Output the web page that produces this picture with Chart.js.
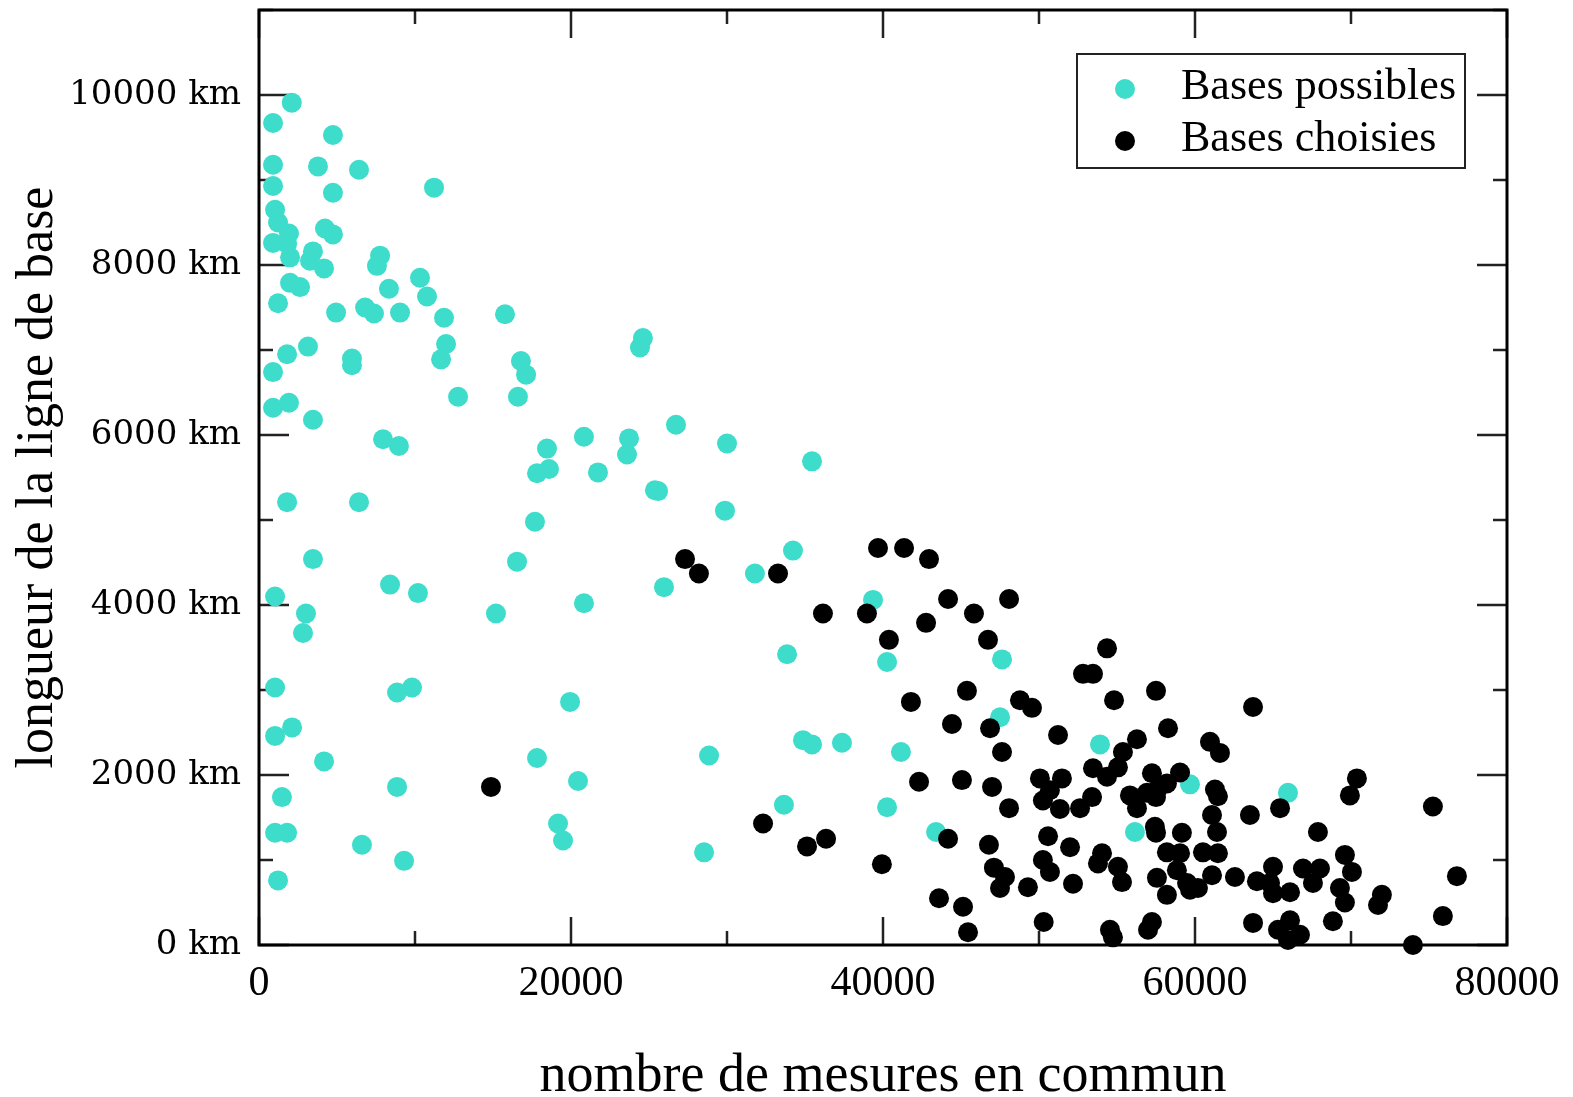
<!DOCTYPE html>
<html>
<head>
<meta charset="utf-8">
<script src="https://cdn.jsdelivr.net/npm/chart.js@4"></script>
<style>
  html, body { margin: 0; padding: 0; background: #fff; }
  #wrap { width: 1573px; height: 1097px; }
</style>
</head>
<body>
<div id="wrap"><canvas id="scatter"></canvas></div>
<script>
// Bases possibles (turquoise)
const possibleX = [2100, 900, 4740, 900, 3780, 6410, 11220, 900, 4740, 1030, 1220, 1920, 900, 1800, 4230, 4740,
  3460, 1990, 3270, 4170, 7760, 7560, 1990, 2630, 10320, 8330, 10770, 1220, 4940, 6800, 7370, 9040, 11860, 15770,
  24420, 24610, 3140, 1800, 900, 5960, 5960, 11990, 11670, 16790, 17120, 12760, 16600, 900, 1920, 3460, 7950, 8970,
  18460, 20830, 23720, 23590, 17820, 18590, 21730, 25380, 1800, 6410, 17690, 3460, 16540, 8400, 10190, 15190, 20830,
  1030, 3010, 2820, 1030, 8850, 9810, 19940, 1030, 2120, 4170, 17820, 20450, 8850, 1470, 1030, 1800, 6600, 19170,
  19490, 9300, 1220, 26730, 30000, 35450, 25580, 29870, 31790, 34230, 25960, 39360, 33850, 40260, 47630, 47500,
  28850, 34870, 35450, 37370, 41150, 33650, 40260, 43400, 28530, 53910, 59680, 65960, 56150];
const possibleY = [9910, 9670, 9530, 9180, 9160, 9120, 8910, 8930, 8850, 8650, 8500, 8370, 8260, 8250, 8430, 8360,
  8160, 8090, 8050, 7960, 8110, 7990, 7790, 7740, 7850, 7720, 7630, 7550, 7440, 7500, 7430, 7440, 7380, 7420,
  7030, 7140, 7040, 6950, 6740, 6900, 6820, 7070, 6890, 6870, 6710, 6450, 6450, 6320, 6380, 6180, 5950, 5870,
  5840, 5980, 5960, 5770, 5550, 5600, 5560, 5350, 5210, 5210, 4980, 4540, 4510, 4240, 4140, 3900, 4020,
  4100, 3900, 3670, 3030, 2970, 3030, 2860, 2460, 2560, 2160, 2200, 1930, 1860, 1740, 1320, 1320, 1180, 1430,
  1230, 990, 760, 6120, 5900, 5690, 5340, 5110, 4370, 4640, 4210, 4060, 3420, 3330, 3360, 2680,
  2230, 2410, 2360, 2380, 2270, 1650, 1620, 1330, 1090, 2360, 1890, 1790, 1330];

// Bases choisies (noir)
const chosenX = [14870, 27310, 28200, 33270, 39680, 41350, 42950, 38970, 36150, 44170, 45830, 48080, 42760, 40380,
  46730, 41790, 45380, 48780, 49550, 46860, 44420, 47630, 42310, 45060, 46990, 48080, 32310, 35130, 36350, 44170,
  46790, 39930, 47110, 47820, 47500, 49290, 43590, 45130, 45450, 54360, 52820, 53460, 57500, 54810, 63720, 58270,
  51220, 60960, 61600, 56280, 55380, 55060, 53460, 54360, 50060, 51470, 57240, 59040, 58200, 61280, 61470, 57560,
  56920, 50700, 55830, 53400, 50250, 52630, 51340, 56280, 57500, 61090, 63520, 65450, 57430, 57500, 59160, 61410,
  50580, 51990, 67880, 58200, 59040, 60510, 61470, 54040, 53780, 50250, 50700, 55060, 55320, 52180, 57560, 58840,
  59490, 60190, 58200, 59680, 61090, 62560, 63970, 65000, 64810, 65000, 66090, 66920, 68010, 67560, 69610, 70060,
  69290, 69610, 70380, 69930, 71980, 71730, 75250, 76790, 75890, 73970, 68840, 63720, 50300, 54550, 54740, 57240,
  56990, 65320, 66090, 66730, 65960];
const chosenY = [1860, 4540, 4370, 4370, 4670, 4670, 4540, 3900, 3900, 4070, 3900, 4070, 3790, 3590,
  3590, 2860, 2990, 2880, 2790, 2550, 2600, 2270, 1920, 1940, 1860, 1610, 1430, 1160, 1250, 1250,
  1180, 950, 910, 800, 670, 680, 550, 450, 150, 3490, 3190, 3190, 2990, 2880, 2800, 2550,
  2470, 2390, 2260, 2420, 2270, 2090, 2080, 1980, 1960, 1960, 2020, 2030, 1900, 1830, 1750, 1820,
  1790, 1820, 1760, 1740, 1700, 1610, 1600, 1610, 1740, 1530, 1530, 1610, 1390, 1320, 1320, 1330,
  1280, 1150, 1330, 1090, 1080, 1090, 1080, 1080, 960, 1000, 860, 920, 740, 720, 790, 880,
  730, 670, 590, 650, 820, 800, 750, 920, 730, 610, 620, 900, 900, 730, 1060, 860,
  670, 500, 1960, 1760, 590, 470, 1630, 810, 340, 0, 280, 260, 270, 180, 90, 270,
  180, 180, 290, 120, 60];

const xTicks = [0, 20000, 40000, 60000, 80000];
const yTicks = [0, 2000, 4000, 6000, 8000, 10000];
const seriesNames = ['Bases possibles', 'Bases choisies'];
const seriesColors = ['#3edccb', '#000000'];

function toPoints(xs, ys) {
  return xs.map((x, i) => ({ x: x, y: ys[i] }));
}

// frame + inward ticks on all four sides (majors and minors)
const frameTicks = {
  id: 'frameTicks',
  beforeDatasetsDraw(chart) {
    const { ctx, chartArea: a, scales } = chart;
    const xs = scales.x, ys = scales.y;
    ctx.save();
    ctx.strokeStyle = '#222';
    ctx.lineWidth = 2.5;
    ctx.beginPath();
    for (let v = 0; v <= 80000; v += 10000) {
      const px = xs.getPixelForValue(v);
      const len = v % 20000 === 0 ? 28 : 14;
      ctx.moveTo(px, a.bottom); ctx.lineTo(px, a.bottom - len);
      ctx.moveTo(px, a.top); ctx.lineTo(px, a.top + len);
    }
    for (let v = 0; v <= 11000; v += 1000) {
      const py = ys.getPixelForValue(v);
      const len = v % 2000 === 0 ? 30 : 14;
      ctx.moveTo(a.left, py); ctx.lineTo(a.left + len, py);
      ctx.moveTo(a.right, py); ctx.lineTo(a.right - len, py);
    }
    ctx.stroke();
    ctx.strokeStyle = '#000';
    ctx.lineWidth = 3;
    ctx.strokeRect(a.left, a.top, a.right - a.left, a.bottom - a.top);
    ctx.restore();
  },
  afterDraw(chart) {
    const { ctx, chartArea: a } = chart;
    const bx = a.right - 430, by = a.top + 44, bw = 388, bh = 114;
    ctx.save();
    ctx.fillStyle = '#fff';
    ctx.fillRect(bx, by, bw, bh);
    ctx.strokeStyle = '#222';
    ctx.lineWidth = 2;
    ctx.strokeRect(bx, by, bw, bh);
    ctx.font = '44px "Liberation Serif", serif';
    ctx.textBaseline = 'middle';
    seriesNames.forEach((name, i) => {
      const cy = by + 33 + i * 52;
      ctx.fillStyle = seriesColors[i];
      ctx.beginPath();
      ctx.arc(bx + 48, cy + 2, 10, 0, Math.PI * 2);
      ctx.fill();
      ctx.fillStyle = '#000';
      ctx.fillText(name, bx + 104, cy);
    });
    ctx.restore();
  }
};

new Chart(document.getElementById('scatter'), {
  type: 'scatter',
  data: {
    datasets: [
      {
        label: seriesNames[0],
        data: toPoints(possibleX, possibleY),
        backgroundColor: seriesColors[0],
        borderWidth: 0,
        pointRadius: 10,
        pointHoverRadius: 10,
        clip: false,
        order: 2,
      },
      {
        label: seriesNames[1],
        data: toPoints(chosenX, chosenY),
        backgroundColor: seriesColors[1],
        borderWidth: 0,
        pointRadius: 10,
        pointHoverRadius: 10,
        clip: false,
        order: 1,
      },
    ],
  },
  options: {
    responsive: true,
    maintainAspectRatio: false,
    animation: false,
    events: [],
    layout: { padding: { top: 9, right: 66, left: 0, bottom: 0 } },
    plugins: {
      legend: { display: false },
      tooltip: { enabled: false },
    },
    scales: {
      x: {
        type: 'linear',
        min: 0,
        max: 80000,
        afterFit: s => { s.height = 152; s.paddingLeft = 0; s.paddingRight = 0; },
        afterBuildTicks: s => { s.ticks = xTicks.map(v => ({ value: v })); },
        grid: { display: false },
        border: { display: false },
        ticks: {
          padding: 6,
          autoSkip: false,
          maxRotation: 0,
          color: '#000',
          font: { family: '"Liberation Serif", serif', size: 42 },
          callback: v => String(v),
        },
        title: {
          display: true,
          text: 'nombre de mesures en commun',
          color: '#000',
          font: { family: '"Liberation Serif", serif', size: 54, lineHeight: 1 },
          padding: { top: 0, bottom: -7 },
        },
      },
      y: {
        type: 'linear',
        min: 0,
        max: 11000,
        afterFit: s => { s.width = 259; s.paddingTop = 0; s.paddingBottom = 0; },
        afterBuildTicks: s => { s.ticks = yTicks.map(v => ({ value: v })); },
        grid: { display: false },
        border: { display: false },
        ticks: {
          padding: 10,
          autoSkip: false,
          color: '#000',
          font: { family: '"DejaVu Serif", serif', size: 34 },
          callback: v => v + ' km',
        },
        title: {
          display: true,
          text: 'longueur de la ligne de base',
          color: '#000',
          font: { family: '"Liberation Serif", serif', size: 52, lineHeight: 1 },
          padding: { top: 12, bottom: 0 },
        },
      },
    },
  },
  plugins: [frameTicks],
});
</script>
</body>
</html>
